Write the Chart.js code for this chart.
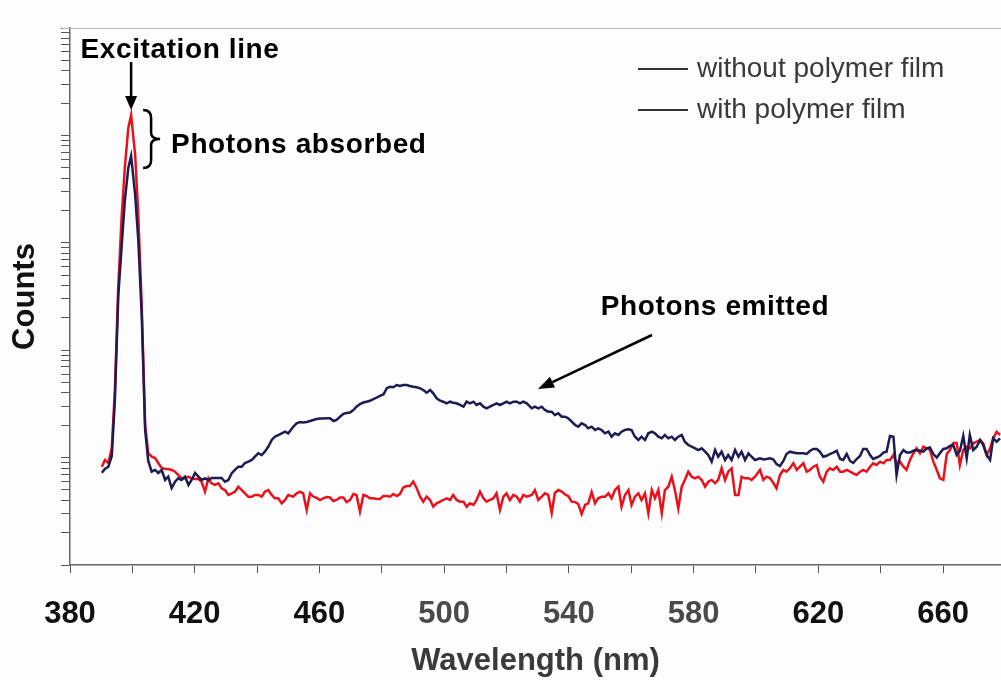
<!DOCTYPE html>
<html>
<head>
<meta charset="utf-8">
<script src="https://cdn.jsdelivr.net/npm/chart.js@4.4.1/dist/chart.umd.min.js"></script>
<style>
  html, body { margin: 0; padding: 0; background: #fdfdfd; }
  #wrap { width: 1001px; height: 680px; overflow: hidden; }
</style>
</head>
<body>
<div id="wrap"><canvas id="spectrum" width="1001" height="680"></canvas></div>
<script>
// wavelength (nm) of each sample
const wavelength = [
  390.2, 391.2, 392.3, 393.4, 394.4, 395.5, 396.6, 397.6, 398.7, 399.6, 400.9, 401.9, 403.0, 404.1,
  405.1, 406.2, 407.3, 408.3, 409.4, 410.5, 411.5, 412.6, 413.7, 414.7, 415.8, 416.9, 418.0, 419.0, 420.1, 421.2,
  422.2, 423.3, 424.4, 425.4, 426.5, 427.6, 428.6, 429.7, 430.8, 431.9, 432.9, 434.0, 435.1, 436.1, 437.2, 438.3,
  439.3, 440.4, 441.5, 442.5, 443.6, 444.7, 445.7, 446.8, 447.9, 449.0, 450.0,
  451.6, 452.7, 453.8, 454.8, 455.9, 457.0, 458.0, 459.1, 460.2, 461.2, 462.3, 463.4, 464.5, 465.5, 466.6, 467.7,
  468.7, 469.8, 470.9, 471.9, 473.0, 474.1, 475.1, 476.2, 477.3, 478.4, 479.4, 480.5, 481.6, 482.6, 483.7, 484.8,
  485.8, 486.9, 488.0, 489.0, 490.1, 491.2, 492.3, 493.3, 494.4, 495.5, 496.5, 497.6, 498.7, 499.7, 500.8, 501.9,
  502.9, 504.0, 505.1, 506.2, 507.2, 508.3, 509.4, 510.4, 511.5, 512.6, 513.6, 514.7, 515.8, 516.8, 517.9, 519.0,
  520.0, 521.1, 522.2, 523.3, 524.3, 525.4, 526.5,
  528.1, 529.1, 530.2, 531.3, 532.3, 533.4, 534.5, 535.5, 536.6, 537.7, 538.8, 539.8, 540.9, 542.0, 543.0, 544.1,
  545.2, 546.2, 547.3, 548.4, 549.4, 550.5, 551.6, 552.7, 553.7, 554.8, 555.9, 556.9, 558.0, 559.1, 560.1, 561.2,
  562.3, 563.3, 564.4, 565.5, 566.6, 567.6, 568.7, 569.8, 570.8, 571.9, 573.0, 574.0, 575.1, 576.2, 577.2, 578.3,
  579.4, 580.5, 581.5, 582.6, 583.7, 584.7, 585.8, 586.9, 587.9, 589.0, 590.1, 591.1, 592.2, 593.3, 594.4, 595.4,
  596.5, 597.6, 598.6, 599.7,
  601.3, 602.4, 603.4, 604.5, 605.6, 606.6, 607.7, 608.8, 609.8, 610.9, 612.0, 613.1, 614.1, 615.2, 616.3, 617.3,
  618.4, 619.5, 620.5, 621.6, 622.7, 623.7, 624.8, 625.9, 627.0, 628.0, 629.1, 630.2, 631.2, 632.3, 633.4, 634.4,
  635.5, 636.6, 637.6, 638.7, 639.8, 640.9, 641.9, 643.0, 644.1, 645.1, 646.2, 647.3, 648.3, 649.4, 650.5, 651.5,
  652.6, 653.7, 654.8, 655.8, 656.9, 658.0, 659.0, 660.1, 661.2, 662.2, 663.3, 664.4, 665.4, 666.5, 667.6, 668.6,
  669.7, 670.8, 671.9, 672.9, 674.0, 675.1, 676.1, 677.2, 678.3
];

const withoutFilm = [
  723, 783, 823, 1035, 3438, 32660, 95390, 250300, 497100, 643100, 278700, 106200, 21270, 1807,
  930, 739, 767, 719, 767, 619, 664, 521, 596, 642, 619, 664, 556, 619, 719, 664,
  619, 642, 619, 646, 646, 646, 646, 596, 619, 719, 767, 823, 823, 891, 916, 950,
  1019, 1096, 1057, 1135, 1263, 1458, 1565, 1623, 1683, 1742, 1683,
  1939, 2086, 2145, 2122, 2145, 2191, 2239, 2288, 2312, 2312, 2322, 2322, 2191, 2239, 2403, 2557,
  2601, 2630, 2775, 2979, 3156, 3258, 3315, 3380, 3497, 3627, 3762, 3868, 4418, 4572, 4514, 4742,
  4641, 4742, 4742, 4641, 4572, 4514, 4418, 4260, 4021, 4260, 3969, 3566, 3387, 3315, 3204, 3315,
  3245, 3204, 3089, 2979, 3315, 3204, 3315, 3089, 3204, 2979, 2878, 2979, 3089, 3204, 3089, 3204,
  3315, 3204, 3315, 3315, 3204, 3315, 3204,
  2878, 2979, 2878, 2979, 2775, 2676, 2676, 2492, 2584, 2403, 2403, 2322, 2159, 2011, 1939, 2086,
  2011, 1874, 1939, 1807, 1874, 1807, 1683, 1742, 1565, 1683, 1623, 1742, 1807, 1834, 1807, 1565,
  1458, 1565, 1458, 1683, 1742, 1683, 1565, 1512, 1623, 1512, 1565, 1458, 1565, 1623, 1406, 1310,
  1263, 1221, 1177, 1221, 1135, 1057, 916, 1177, 1019, 1135, 950, 1057, 950, 1177, 1019, 1135,
  950, 1096, 1019, 950,
  985, 960, 970, 985, 960, 872, 835, 930, 1080, 1135, 1115, 1096, 1096, 1096, 1080, 1152,
  1203, 1203, 1135, 1019, 1039, 1080, 1115, 1157, 970, 950, 1080, 930, 891, 970, 1035, 1203,
  1203, 1057, 970, 1002, 1039, 1115, 1135, 1589, 1565, 689, 1057, 1177, 1115, 1115, 1157, 1177,
  1157, 1135, 1221, 1242, 1080, 1002, 1096, 1203, 1221, 1282, 1310, 1057, 1152, 1589, 985, 1623,
  1177, 1263, 1458, 1310, 1057, 950, 1512, 1406, 1512
];

const withFilm = [
  823, 950, 891, 1229, 4260, 40460, 181500, 507900, 1172000, 1548000, 657100, 181500, 26360, 2011,
  1103, 1019, 991, 891, 800, 783, 783, 767, 739, 689, 642, 642, 664, 642, 632, 632,
  596, 481, 642, 576, 556, 576, 518, 499, 449, 465, 481, 536, 499, 465, 433, 433,
  449, 449, 433, 481, 499, 449, 418, 418, 375, 403, 449,
  433, 465, 481, 465, 325, 465, 434, 421, 403, 418, 430, 425, 394, 403, 425, 425,
  386, 403, 458, 449, 314, 449, 439, 418, 418, 412, 412, 439, 439, 433, 458, 439,
  458, 527, 544, 544, 599, 518, 433, 389, 433, 403, 349, 375, 389, 403, 418, 403,
  449, 403, 389, 389, 349, 375, 362, 403, 481, 418, 389, 403, 418, 465, 325, 433,
  465, 403, 449, 433, 389, 449, 433,
  449, 499, 403, 433, 465, 449, 305, 468, 499, 483, 453, 439, 389, 386, 370, 298,
  362, 375, 478, 375, 418, 433, 433, 465, 418, 499, 536, 349, 449, 499, 362, 433,
  465, 403, 465, 303, 499, 418, 499, 303, 499, 536, 664, 499, 337, 536, 619, 739,
  664, 642, 664, 619, 536, 596, 619, 576, 619, 795, 619, 739, 795, 449, 449, 664,
  642, 642, 619, 664,
  767, 619, 664, 646, 580, 518, 689, 767, 739, 795, 885, 767, 823, 885, 739, 767,
  823, 853, 664, 596, 739, 795, 767, 823, 739, 739, 767, 739, 714, 689, 739, 767,
  739, 823, 885, 853, 916, 885, 950, 950, 1057, 885, 916, 823, 767, 950, 1096, 1221,
  1096, 1263, 1221, 1177, 916, 767, 642, 619, 1080, 1177, 1368, 1368, 853, 1177, 1263, 1221,
  1359, 1406, 1458, 1359, 1057, 1221, 1512, 1742, 1623
];

const seriesNames = ['without polymer film', 'with polymer film'];
const seriesColors = ['#1c1b52', '#e8121d'];
const labelledWavelengths = [380, 420, 460, 500, 540, 580, 620, 660];
const fadedWavelengths = [500, 540, 580];
const countDecades = [1e2, 1e3, 1e4, 1e5, 1e6, 1e7];

const logTicks = [];
countDecades.forEach((d, i) => {
  if (i === countDecades.length - 1) { logTicks.push(d); return; }
  for (let m = 1; m <= 9; m++) logTicks.push(d * m);
});

const sans = '"Liberation Sans", Arial, sans-serif';

function arrow(ctx, x0, y0, x1, y1, head, half) {
  const a = Math.atan2(y1 - y0, x1 - x0);
  const bx = x1 - head * Math.cos(a), by = y1 - head * Math.sin(a);
  ctx.beginPath();
  ctx.moveTo(x0, y0);
  ctx.lineTo(bx, by);
  ctx.stroke();
  ctx.beginPath();
  ctx.moveTo(x1, y1);
  ctx.lineTo(bx + half * Math.sin(a), by - half * Math.cos(a));
  ctx.lineTo(bx - half * Math.sin(a), by + half * Math.cos(a));
  ctx.closePath();
  ctx.fill();
}

const annotate = {
  id: 'annotate',
  afterDraw(chart) {
    const { ctx, chartArea: area, scales: { x, y } } = chart;
    ctx.save();

    // thin frame line along the top of the plot
    ctx.strokeStyle = '#b8b8b8';
    ctx.lineWidth = 1;
    ctx.beginPath();
    ctx.moveTo(area.left - 8, area.top + 0.5);
    ctx.lineTo(area.right, area.top + 0.5);
    ctx.stroke();

    const peakIdx = withFilm.indexOf(Math.max(...withFilm));
    const px = x.getPixelForValue(wavelength[peakIdx]);
    const redTop = y.getPixelForValue(withFilm[peakIdx]);
    const navyTop = y.getPixelForValue(Math.max(...withoutFilm));

    ctx.fillStyle = '#000';
    ctx.strokeStyle = '#000';
    ctx.lineWidth = 2.5;
    ctx.textBaseline = 'middle';
    ctx.letterSpacing = '0.6px';

    ctx.font = 'bold 28px ' + sans;
    ctx.textAlign = 'center';
    ctx.fillText('Excitation line', 180, 50);
    arrow(ctx, px, 62, px, redTop - 5, 14, 6);

    // brace between the two peak heights
    const top = redTop - 5, bottom = navyTop + 12, mid = (top + bottom) / 2;
    const x0 = px + 12, xs = px + 20, xt = px + 29;
    ctx.beginPath();
    ctx.moveTo(x0, top);
    ctx.quadraticCurveTo(xs, top, xs, top + 8);
    ctx.lineTo(xs, mid - 6);
    ctx.quadraticCurveTo(xs, mid, xt, mid);
    ctx.quadraticCurveTo(xs, mid, xs, mid + 6);
    ctx.lineTo(xs, bottom - 8);
    ctx.quadraticCurveTo(xs, bottom, x0, bottom);
    ctx.stroke();

    ctx.textAlign = 'left';
    ctx.fillText('Photons absorbed', px + 40, mid + 6);

    ctx.textAlign = 'center';
    ctx.fillText('Photons emitted', 715, 307);
    arrow(ctx, 652, 335, 538, 389, 16, 6);

    // legend
    ctx.letterSpacing = '0px';
    ctx.font = '28px ' + sans;
    ctx.textAlign = 'left';
    [69, 110].forEach((ly, i) => {
      ctx.strokeStyle = '#333';
      ctx.lineWidth = 2;
      ctx.beginPath();
      ctx.moveTo(638, ly);
      ctx.lineTo(688, ly);
      ctx.stroke();
      ctx.fillStyle = '#3a3a3a';
      ctx.fillText(seriesNames[i], 697, ly);
    });
    ctx.restore();
  }
};

new Chart(document.getElementById('spectrum'), {
  type: 'line',
  data: {
    datasets: [
      {
        label: seriesNames[0],
        data: wavelength.map((w, i) => ({ x: w, y: withoutFilm[i] })),
        borderColor: seriesColors[0],
        borderWidth: 2.5,
        pointRadius: 0,
        tension: 0
      },
      {
        label: seriesNames[1],
        data: wavelength.map((w, i) => ({ x: w, y: withFilm[i] })),
        borderColor: seriesColors[1],
        borderWidth: 2.5,
        pointRadius: 0,
        tension: 0
      }
    ]
  },
  options: {
    responsive: false,
    animation: false,
    devicePixelRatio: 1,
    layout: { padding: { top: 28, right: 0, bottom: 0, left: 0 } },
    plugins: {
      legend: { display: false },
      tooltip: { enabled: false }
    },
    scales: {
      x: {
        type: 'linear',
        min: 380,
        max: 678.6,
        afterFit: s => { s.height = 115; },
        grid: { drawOnChartArea: false, tickLength: 8, color: '#555' },
        border: { color: '#666', width: 1.5 },
        ticks: {
          stepSize: 20,
          includeBounds: false,
          autoSkip: false,
          maxRotation: 0,
          padding: 26,
          font: { family: sans, size: 31, weight: 'bold', lineHeight: 1 },
          color: c => fadedWavelengths.includes(c.tick.value) ? '#4a4a4a' : '#111',
          callback: v => labelledWavelengths.includes(v) ? String(v) : ''
        },
        title: {
          display: true,
          text: 'Wavelength (nm)',
          color: '#3a3a3a',
          font: { family: sans, size: 31, weight: 'bold', lineHeight: 1 },
          padding: { top: 0, bottom: 3 }
        }
      },
      y: {
        type: 'logarithmic',
        min: countDecades[0],
        max: countDecades[countDecades.length - 1],
        afterFit: s => { s.width = 70; },
        afterBuildTicks: s => { s.ticks = logTicks.map(v => ({ value: v })); },
        grid: { drawOnChartArea: false, tickLength: 9, color: '#555' },
        border: { color: '#666', width: 1.5 },
        ticks: { display: false },
        title: {
          display: true,
          text: 'Counts',
          color: '#111',
          font: { family: sans, size: 31, weight: 'bold', lineHeight: 1 },
          padding: { top: 10, bottom: 0 }
        }
      }
    }
  },
  plugins: [annotate]
});
</script>
</body>
</html>
